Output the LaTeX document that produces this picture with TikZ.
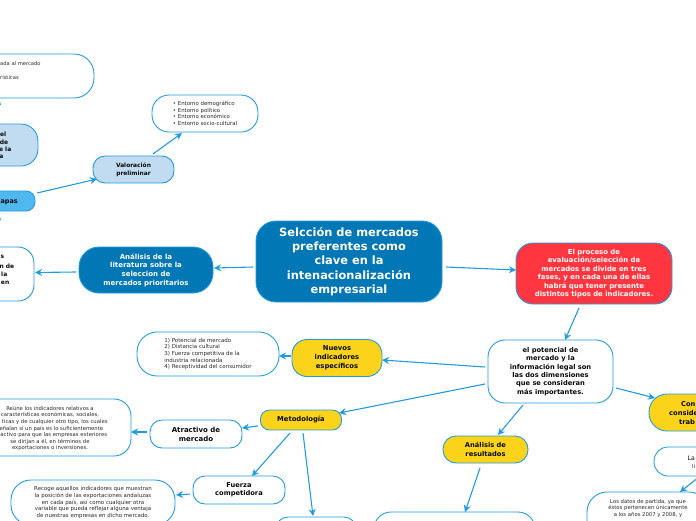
\documentclass[tikz,border=0pt]{standalone}
\usepackage{fontspec}
\setmainfont{DejaVu Sans}
\usetikzlibrary{arrows.meta}
\definecolor{linkblue}{HTML}{239BE0}
\definecolor{rootblue}{HTML}{0277B5}
\definecolor{paleblue}{HTML}{C1DCF1}
\definecolor{skyblue}{HTML}{4FB8EE}
\definecolor{sunny}{HTML}{FAD31A}
\definecolor{redbox}{HTML}{FF3640}
\definecolor{ink}{HTML}{0A0A0A}
\definecolor{note}{HTML}{2A2A2A}
\tikzset{
  bx/.style={draw=linkblue,line width=0.9pt,inner sep=0pt,align=center,text=ink,font=\fontsize{6.7}{8.5}\selectfont\bfseries},
  wnote/.style={bx,fill=white,text=note,font=\fontsize{5.4}{6.6}\selectfont},
  frag/.style={inner sep=0pt,text=ink,font=\fontsize{6.5}{8.6}\selectfont\bfseries,align=right},
  fragn/.style={inner sep=0pt,text=note,font=\fontsize{5.2}{6.6}\selectfont},
  link/.style={draw=linkblue,line width=1.1pt,-{Stealth[length=7pt,width=7pt]}},
}
\newcommand{\lk}[6]{\draw[link] ([shift={(#2,#3)}]#1.center) -- ([shift={(#5,#6)}]#4.center);}
\begin{document}
\begin{tikzpicture}[x=1pt,y=-1pt]
\useasboundingbox (0,0) rectangle (696,520);
\clip (0,0) rectangle (696,520);
% ---- boxes
\node[bx,fill=rootblue,text=white,rounded corners=20pt,minimum width=186pt,minimum height=81pt,font=\fontsize{11.4}{14.2}\selectfont\bfseries] (root) at (349,261.5) {Selcción de mercados\\preferentes como\\clave en la\\intenacionalización\\empresarial};
\node[bx,fill=rootblue,text=white,rounded corners=20pt,minimum width=134pt,minimum height=46pt,font=\fontsize{7}{8.7}\selectfont\bfseries] (lit) at (146,270) {Análisis de la\\literatura sobre la\\seleccion de\\mercados prioritarios};
\node[bx,fill=white,rounded corners=16pt,minimum width=84pt,minimum height=54pt] (litn) at (-8,274) {};
\node[bx,fill=skyblue,rounded corners=9pt,minimum width=85pt,minimum height=20pt] (etapas) at (-7.5,201) {};
\node[bx,fill=paleblue,rounded corners=17pt,minimum width=88pt,minimum height=42pt] (cpale) at (-6,145) {};
\node[bx,fill=white,rounded corners=20pt,minimum width=154pt,minimum height=44pt] (cwhite) at (17,76) {};
\node[bx,fill=paleblue,rounded corners=12pt,minimum width=81pt,minimum height=27pt,font=\fontsize{5.9}{8.2}\selectfont\bfseries] (valo) at (133.5,169.5) {Valoración\\preliminar};
\node[wnote,rounded corners=17pt,minimum width=106pt,minimum height=37pt,align=left] (ent) at (205,113.5) {\textbullet\ Entorno demográfico\\\textbullet\ Entorno político\\\textbullet\ Entorno económico\\\textbullet\ Entorno socio-cultural};
\node[bx,fill=redbox,text=white,rounded corners=17pt,minimum width=156pt,minimum height=61pt,font=\fontsize{6.9}{8.4}\selectfont\bfseries] (red) at (594,273.5) {El proceso de\\evaluación/selección de\\mercados se divide en tres\\fases, y en cada una de ellas\\habrá que tener presente\\distintos tipos de indicadores.};
\node[bx,fill=white,rounded corners=17pt,minimum width=125pt,minimum height=63pt,font=\fontsize{6.7}{8.4}\selectfont\bfseries] (pot) at (550.5,371.5) {el potencial de\\mercado y la\\información legal son\\las dos dimensiones\\que se consideran\\más importantes.};
\node[bx,fill=sunny,rounded corners=15pt,minimum width=90pt,minimum height=37pt,font=\fontsize{6.8}{9}\selectfont\bfseries] (nue) at (337,358) {Nuevos\\indicadores\\específicos};
\node[wnote,rounded corners=20pt,minimum width=142pt,minimum height=44pt,align=left,font=\fontsize{5.5}{6.6}\selectfont] (lista) at (208,354) {1) Potencial de mercado\\2) Distancia cultural\\3) Fuerza competitiva de la\\industria relacionada\\4) Receptividad del consumidor};
\node[bx,fill=sunny,rounded corners=9pt,minimum width=81pt,minimum height=20pt,font=\fontsize{6.8}{8}\selectfont\bfseries] (met) at (301,420) {Metodología};
\node[bx,fill=white,rounded corners=12pt,minimum width=92pt,minimum height=28pt,font=\fontsize{7}{9}\selectfont\bfseries] (atr) at (196,434) {Atractivo de\\mercado};
\node[bx,fill=white,text=note,rounded corners=17pt,minimum width=170pt,minimum height=57pt] (reune) at (46,427.5) {};
\node[inner sep=0pt,align=center,text=note,font=\fontsize{5.3}{6.55}\selectfont] (reunet) at (50,428.5) {Reúne los indicadores relativos a\\características económicas, sociales,\\\phantom{polí}ticas y de cualquier otro tipo, los cuales\\\phantom{s}eñalan si un país es lo suficientemente\\\phantom{atr}activo para que las empresas exteriores\\se dirijan a él, en términos de\\exportaciones o inversiones.};
\node[bx,fill=white,rounded corners=12pt,minimum width=92pt,minimum height=28pt,font=\fontsize{6.7}{8}\selectfont\bfseries] (fue) at (239,490) {Fuerza\\competidora};
\node[wnote,rounded corners=20pt,minimum width=164pt,minimum height=45pt,font=\fontsize{5.45}{6.6}\selectfont] (rec) at (93,502.5) {Recoge aquellos indicadores que muestran\\la posición de las exportaciones andaluzas\\en cada país, así como cualquier otra\\variable que pueda reflejar alguna ventaja\\de nuestras empresas en dicho mercado.};
\node[bx,fill=white,rounded corners=12pt,minimum width=80pt,minimum height=28pt] (recp) at (316,531) {};
\node[bx,fill=sunny,rounded corners=13pt,minimum width=85pt,minimum height=27pt,font=\fontsize{6.7}{9}\selectfont\bfseries] (ana) at (485.5,449.5) {Análisis de\\resultados};
\node[bx,fill=white,rounded corners=17pt,minimum width=161pt,minimum height=40pt] (vars) at (454.5,532) {};
\node[bx,fill=sunny,rounded corners=18pt,minimum width=100pt,minimum height=37pt] (cons) at (699,412.5) {};
\node[bx,fill=white,rounded corners=14pt,minimum width=92pt,minimum height=29pt] (lali) at (700,461.5) {};
\node[wnote,rounded corners=20pt,minimum width=122pt,minimum height=66pt] (dat) at (648,525) {};
% ---- texts of the boxes that run off the edge
\tikzset{fa/.style={frag,anchor=east,font=\fontsize{6}{8}\selectfont\bfseries}}
\node[fa] (a1) at (4.5,257) {s};
\node[fa] (a2) at (14.5,266) {n de};
\node[fa] (a3) at (7.5,274.5) {la};
\node[fa] (a4) at (9.5,283) {en};
\node[frag,anchor=east,font=\fontsize{6.5}{8}\selectfont\bfseries] (t2) at (18,202) {apas};
\node[fa] (b1) at (6.5,134) {el};
\node[fa] (b2) at (8.5,142) {de};
\node[fa] (b3) at (11.5,149.5) {e la};
\node[fa] (b4) at (3.5,157) {a};
\node[fragn,anchor=west] (t4) at (0,64) {ada al mercado};
\node[fragn,anchor=west] (t5) at (0,77) {rísticas};
\node[frag,anchor=west,font=\fontsize{6.7}{8}\selectfont\bfseries] (t6) at (681,404) {Con};
\node[frag,anchor=west,font=\fontsize{6.7}{8}\selectfont\bfseries] (t7) at (669,413) {conside};
\node[frag,anchor=west,font=\fontsize{6.7}{8}\selectfont\bfseries] (t8) at (679,421.5) {trab};
\node[frag,anchor=west,font=\fontsize{6.2}{8}\selectfont] (t9) at (687.5,458) {La};
\node[frag,anchor=west,font=\fontsize{5.5}{8}\selectfont,text=note] (t10) at (692,466) {li};
\node[anchor=north,align=center,text=note,inner sep=0pt,font=\fontsize{5.3}{6.5}\selectfont] (t11) at (648,499) {Los datos de partida, ya que\\éstos pertenecen únicamente\\a los años 2007 y 2008, y};
% ---- connectors
\lk{root}{-96}{5.5}{lit}{68}{-2}
\lk{lit}{-70}{2}{litn}{43}{-1.5}
\lk{etapas}{44.5}{-8}{valo}{-36.5}{9.5}
\lk{valo}{19.5}{-15.5}{ent}{-23}{19.5}
\lk{root}{97}{5.5}{red}{-78}{-3.5}
\lk{red}{-15}{34.5}{pot}{14.5}{-31.5}
\lk{pot}{-65.5}{-4.5}{nue}{45}{2}
\lk{nue}{-46}{-2}{lista}{71}{2}
\lk{pot}{-65.5}{12.5}{met}{38}{-7}
\lk{pot}{65.5}{16.5}{cons}{-44}{-14.5}
\lk{pot}{-27.5}{33.5}{ana}{12.5}{-14.5}
\lk{ana}{-5.5}{18.5}{vars}{10.5}{-20}
\lk{met}{-43}{6}{atr}{46}{-6}
\lk{atr}{-49}{-2}{reune}{85}{4.5}
\lk{met}{-11}{13}{fue}{13}{-14}
\lk{fue}{-49}{4}{rec}{83}{-7.5}
\lk{met}{2}{13}{recp}{-3}{-15}
\lk{lali}{-1}{15.5}{dat}{32}{-33}
\lk{cpale}{0}{-20}{cwhite}{-18}{22}
\lk{etapas}{0}{-10}{cpale}{4}{37}
\lk{litn}{0}{-27}{etapas}{6.5}{12}
\end{tikzpicture}
\end{document}
